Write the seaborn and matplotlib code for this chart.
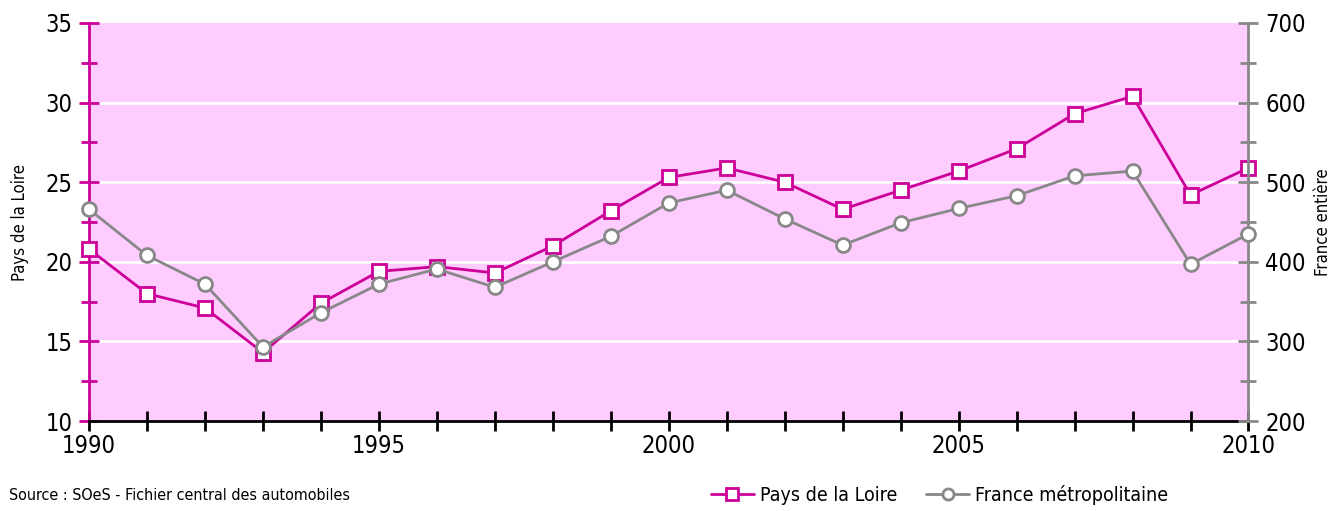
import matplotlib
matplotlib.use("Agg")
import matplotlib.pyplot as plt
import seaborn as sns
import pandas as pd
from matplotlib.ticker import MultipleLocator
from matplotlib.lines import Line2D

years = list(range(1990, 2011))
pays_loire = [20.8, 18.0, 17.1, 14.3, 17.4, 19.4, 19.7, 19.3, 21.0, 23.2, 25.3,
              25.9, 25.0, 23.3, 24.5, 25.7, 27.1, 29.3, 30.4, 24.2, 25.9]
france = [466, 408, 372, 293, 336, 372, 391, 368, 400, 432, 474,
          490, 454, 421, 449, 467, 483, 508, 514, 397, 435]

pink = "#cc0099"
grey = "#888888"

sns.set_style("white")
plt.rcParams['font.family'] = ['DejaVu Sans']
plt.rcParams['font.stretch'] = 'condensed'
plt.rcParams['text.color'] = 'black'
plt.rcParams['xtick.color'] = 'black'
plt.rcParams['ytick.color'] = 'black'
plt.rcParams['axes.labelcolor'] = 'black'

df = pd.DataFrame({"annee": years, "pdl": pays_loire, "fr": france})

fig = plt.figure(figsize=(13.35, 5.11), dpi=100)
ax = fig.add_axes([0.0667, 0.176, 0.8685, 0.779])
ax.set_facecolor("#ffccff")
ax2 = ax.twinx()

sns.lineplot(data=df, x="annee", y="pdl", ax=ax, color=pink, lw=2,
             marker="s", markersize=10, markerfacecolor="white",
             markeredgecolor=pink, markeredgewidth=2, clip_on=False, zorder=4)
sns.lineplot(data=df, x="annee", y="fr", ax=ax2, color=grey, lw=2,
             marker="o", markersize=10, markerfacecolor="white",
             markeredgecolor=grey, markeredgewidth=2, clip_on=False, zorder=3)

ax.set_xlim(1990, 2010)
ax.set_ylim(10, 35)
ax2.set_ylim(200, 700)
ax.yaxis.set_major_locator(MultipleLocator(5))
ax.yaxis.set_minor_locator(MultipleLocator(2.5))
ax2.yaxis.set_major_locator(MultipleLocator(100))
ax2.yaxis.set_minor_locator(MultipleLocator(50))
ax.xaxis.set_major_locator(MultipleLocator(5))
ax.xaxis.set_minor_locator(MultipleLocator(1))

ax.grid(False)
ax2.grid(False)
for y in [15, 20, 25, 30]:
    ax.axhline(y, color="white", lw=2, zorder=0)

ax.spines["top"].set_visible(False)
ax2.spines["top"].set_visible(False)
ax.spines["right"].set_visible(False)
ax2.spines["left"].set_visible(False)
ax2.spines["bottom"].set_visible(False)
ax.spines["left"].set_color(pink)
ax.spines["left"].set_linewidth(2)
ax2.spines["right"].set_color(grey)
ax2.spines["right"].set_linewidth(2)
ax.spines["bottom"].set_color("black")
ax.spines["bottom"].set_linewidth(2)

ax.tick_params(axis="y", which="both", direction="inout", color=pink, width=2,
               length=14, labelsize=17, left=True, pad=5)
ax.tick_params(axis="y", which="minor", length=11)
ax2.tick_params(axis="y", which="both", direction="inout", color=grey, width=2,
                length=14, labelsize=17, right=True, pad=5)
ax2.tick_params(axis="y", which="minor", length=11)
ax.tick_params(axis="x", which="both", direction="inout", color="black", width=2,
               length=14, labelsize=17, bottom=True, pad=2)

ax.set_xlabel("")
ax.set_ylabel("Pays de la Loire", fontsize=12, labelpad=12)
ax2.set_ylabel("France entière", fontsize=12, labelpad=6)

fig.text(0.007, 0.022, "Source : SOeS - Fichier central des automobiles", fontsize=11.5)

handles = [
    Line2D([], [], color=pink, lw=2, marker="s", markersize=8,
           markerfacecolor="white", markeredgecolor=pink, markeredgewidth=2),
    Line2D([], [], color=grey, lw=2, marker="o", markersize=8,
           markerfacecolor="white", markeredgecolor=grey, markeredgewidth=2),
]
fig.legend(handles, ["Pays de la Loire", "France métropolitaine"], ncol=2,
           loc="lower left", bbox_to_anchor=(0.521, -0.018), frameon=False,
           fontsize=14, handlelength=2.2, columnspacing=1.5, handletextpad=0.3,
           borderpad=0.3)

fig.savefig("out.png", dpi=100)
